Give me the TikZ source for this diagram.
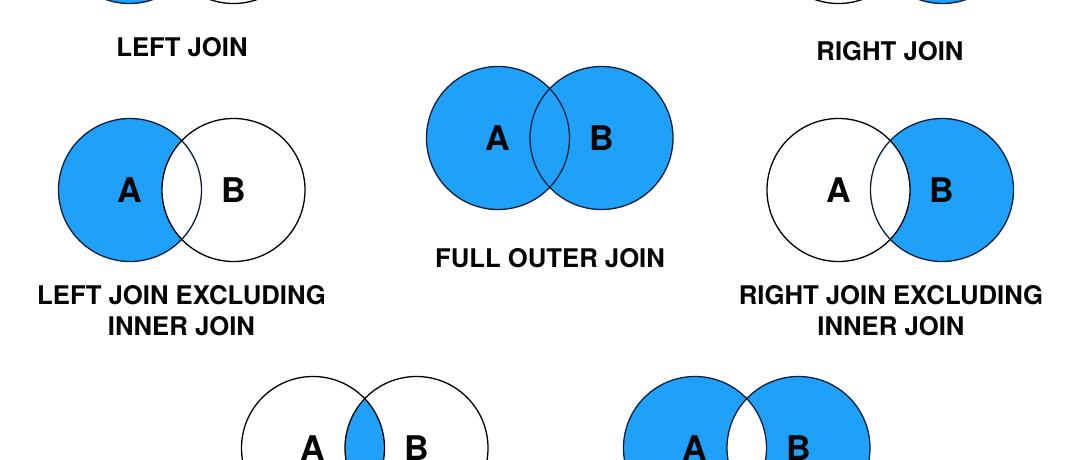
\documentclass[tikz,border=0pt]{standalone}
\usepackage{fontspec}
\setmainfont{TeX Gyre Heros}
\usepackage{tikz}
\usetikzlibrary{positioning}
\definecolor{JoinBlue}{HTML}{1FA0F9}
\definecolor{Edge}{HTML}{0B1F3F}
\definecolor{Text}{HTML}{050505}

\begin{document}
\begin{tikzpicture}[x=1pt,y=1pt,
    vset/.style={circle,minimum size=143pt,inner sep=0pt,draw=black,line width=1.3pt,
      font=\fontsize{34}{36}\selectfont\bfseries,text=Text},
    bset/.style={vset,draw=Edge},
    jlabel/.style={align=center,font=\fontsize{25.7}{31}\selectfont\bfseries,text=Text}]
      \useasboundingbox (0,0) rectangle (1080,459);
      \fill[white] (0,0) rectangle (1080,459);
      % left join
      \fill[JoinBlue] (129.5,527) circle (71.5);
      \node[bset] (lja) at (129.5,527) {A};
      \node[vset] (ljb) at (233.5,527) {B};
      \node[jlabel] (ljlabel) at (182,412) {LEFT JOIN};
      % right join
      \fill[JoinBlue] (942.5,527) circle (71.5);
      \node[vset] (rja) at (838.5,527) {A};
      \node[bset] (rjb) at (942.5,527) {B};
      \node[jlabel] (rjlabel) at (890,408) {RIGHT JOIN};
      % full outer join
      \fill[JoinBlue] (498,321) circle (71.5);
      \fill[JoinBlue] (601.5,321) circle (71.5);
      \node[bset] (foa) at (498,321) {A};
      \node[bset] (fob) at (601.5,321) {B};
      \node[jlabel] (folabel) at (550,201) {FULL OUTER JOIN};
      % left join excluding inner join
      \fill[JoinBlue] (130,269) circle (71.5);
      \begin{scope}
        \clip (130,269) circle (71.5);
        \fill[white] (233.5,269) circle (71.5);
      \end{scope}
      \node[bset] (lea) at (130,269) {A};
      \node[vset] (leb) at (233.5,269) {B};
      \node[jlabel] (lelabel) at (181.5,148) {LEFT JOIN EXCLUDING\\INNER JOIN};
      % right join excluding inner join
      \fill[JoinBlue] (942,269) circle (71.5);
      \begin{scope}
        \clip (942,269) circle (71.5);
        \fill[white] (838.5,269) circle (71.5);
      \end{scope}
      \node[vset] (rea) at (838.5,269) {A};
      \node[bset] (reb) at (942,269) {B};
      \node[jlabel] (relabel) at (891,148) {RIGHT JOIN EXCLUDING\\INNER JOIN};
      % inner join
      \begin{scope}
        \clip (313,11) circle (71.5);
        \fill[JoinBlue] (416.5,11) circle (71.5);
      \end{scope}
      \node[vset] (ija) at (313,11) {A};
      \node[vset] (ijb) at (416.5,11) {B};
      % outer join excluding inner join
      \fill[JoinBlue] (695,11) circle (71.5);
      \fill[JoinBlue] (798.5,11) circle (71.5);
      \begin{scope}
        \clip (695,11) circle (71.5);
        \fill[white] (798.5,11) circle (71.5);
      \end{scope}
      \node[bset] (oea) at (695,11) {A};
      \node[bset] (oeb) at (798.5,11) {B};
    \end{tikzpicture}
\end{document}
